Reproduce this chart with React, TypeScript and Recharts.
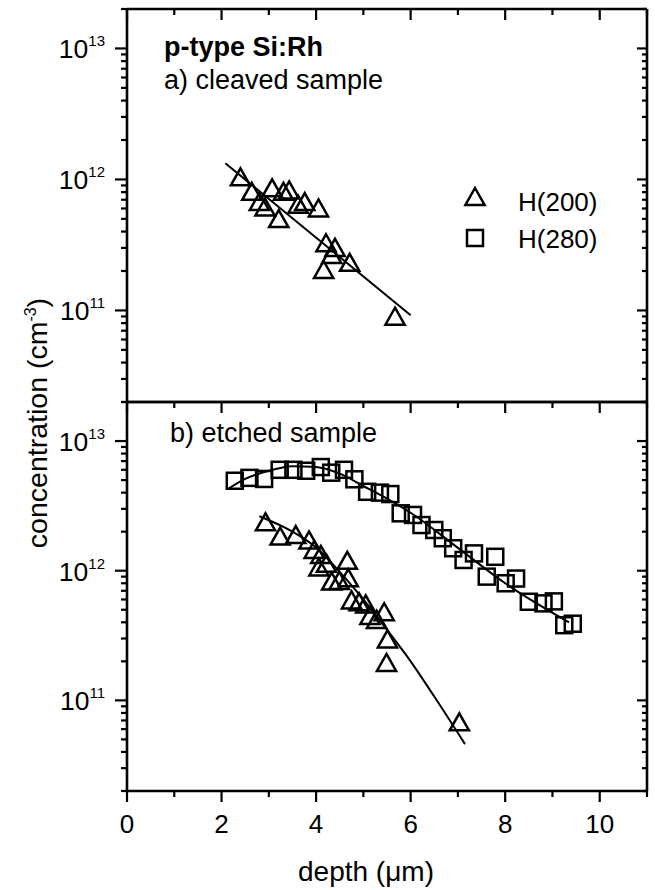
import React from 'react';
import { ComposedChart, Scatter, Line, XAxis, YAxis, Legend, Customized } from 'recharts';

// ---------------- data ----------------
const depthTicks = [0, 1, 2, 3, 4, 5, 6, 7, 8, 9, 10, 11];
const depthTickLabels = [0, 2, 4, 6, 8, 10];
const concTicks = [
  2e10, 3e10, 4e10, 5e10, 6e10, 7e10, 8e10, 9e10,
  1e11, 2e11, 3e11, 4e11, 5e11, 6e11, 7e11, 8e11, 9e11,
  1e12, 2e12, 3e12, 4e12, 5e12, 6e12, 7e12, 8e12, 9e12,
  1e13, 2e13,
];
const concDecades = [1e11, 1e12, 1e13];
const seriesNames = ['H(200)', 'H(280)'];

// a) cleaved sample, H(200)
const cleavedH200Depth = [2.40, 2.64, 2.80, 2.92, 3.07, 3.21, 3.31, 3.43, 3.62, 3.76, 4.05, 4.16, 4.21, 4.33, 4.40, 4.71, 5.67];
const cleavedH200Conc = [1.02e12, 7.9e11, 6.6e11, 6.0e11, 8.4e11, 4.9e11, 7.9e11, 8.1e11, 6.3e11, 6.6e11, 5.9e11, 2.0e11, 3.2e11, 2.6e11, 2.95e11, 2.27e11, 8.8e10];
const cleavedFitDepth = [2.08, 6.0];
const cleavedFitConc = [1.33e12, 9.2e10];

// b) etched sample, H(280)
const etchedH280Depth = [2.28, 2.59, 2.90, 3.23, 3.52, 3.79, 4.10, 4.32, 4.59, 4.81, 5.08, 5.35, 5.57, 5.79, 6.05, 6.23, 6.50, 6.68, 6.90, 7.12, 7.34, 7.61, 7.79, 8.01, 8.23, 8.50, 8.81, 9.03, 9.25, 9.43];
const etchedH280Conc = [4.94e12, 5.2e12, 5.1e12, 6.0e12, 6.0e12, 5.9e12, 6.3e12, 5.7e12, 6.0e12, 5.07e12, 4.06e12, 4.0e12, 3.9e12, 2.77e12, 2.69e12, 2.25e12, 2.06e12, 1.78e12, 1.49e12, 1.21e12, 1.36e12, 9.0e11, 1.28e12, 8.0e11, 8.7e11, 5.76e11, 5.6e11, 5.8e11, 3.8e11, 3.9e11];
const etchedH280FitDepth = [2.15, 2.5, 3.0, 3.5, 4.0, 4.5, 5.0, 5.5, 6.0, 7.0, 8.0, 9.35];
const etchedH280FitConc = [4.3e12, 5.1e12, 5.9e12, 6.4e12, 6.3e12, 5.6e12, 4.5e12, 3.6e12, 2.8e12, 1.5e12, 8.0e11, 4.0e11];

// b) etched sample, H(200)
const etchedH200Depth = [2.93, 3.24, 3.57, 3.85, 3.96, 4.10, 4.06, 4.22, 4.33, 4.66, 4.68, 4.49, 4.75, 4.91, 5.05, 5.14, 5.28, 5.44, 5.51, 5.49, 7.03];
const etchedH200Conc = [2.32e12, 1.80e12, 1.85e12, 1.68e12, 1.42e12, 1.30e12, 1.04e12, 1.11e12, 8.1e11, 1.17e12, 8.6e11, 8.2e11, 5.8e11, 5.6e11, 5.4e11, 4.4e11, 4.1e11, 4.7e11, 2.9e11, 1.91e11, 6.65e10];
const etchedH200FitDepth = [2.8, 3.5, 4.0, 4.5, 5.0, 5.5, 6.0, 6.5, 7.15];
const etchedH200FitConc = [2.63e12, 2.0e12, 1.51e12, 9.8e11, 6.0e11, 3.5e11, 2.0e11, 1.07e11, 4.6e10];

const zip = (xs: number[], ys: number[]) => xs.map((x, i) => ({ x, y: ys[i] }));

const cleavedH200 = zip(cleavedH200Depth, cleavedH200Conc);
const cleavedFit = zip(cleavedFitDepth, cleavedFitConc);
const etchedH280 = zip(etchedH280Depth, etchedH280Conc);
const etchedH280Fit = zip(etchedH280FitDepth, etchedH280FitConc);
const etchedH200 = zip(etchedH200Depth, etchedH200Conc);
const etchedH200Fit = zip(etchedH200FitDepth, etchedH200FitConc);

// ---------------- layout / style ----------------
const W = 655;
const H = 890;
const PLOT_L = 127;
const PLOT_R = 647;
const A_TOP = 9;
const A_BOTTOM = 402;
const B_TOP = 402;
const B_BOTTOM = 791;
const FONT = '"Liberation Sans", Arial, Helvetica, sans-serif';
const AXIS = { stroke: '#000', strokeWidth: 2.6 };
const TICK_W = 2.2;

const isDecade = (v: number) => concDecades.some((d) => Math.abs(d - v) / d < 1e-9);
const isEvenDepth = (v: number) => Math.round(v) % 2 === 0;

function LeftTick(props: any) {
  const { x, y, payload } = props;
  const v = payload.value;
  const major = isDecade(v);
  const exp = Math.round(Math.log10(v));
  return (
    <g>
      <line x1={x} x2={x - (major ? 12 : 6)} y1={y} y2={y} stroke="#000" strokeWidth={TICK_W} />
      {major && (
        <text x={x - 22} y={y + 10} textAnchor="end" fontFamily={FONT} fontSize={26.5} fill="#000">
          10
          <tspan dy={-12} fontSize={15}>{exp}</tspan>
        </text>
      )}
    </g>
  );
}

function RightTick(props: any) {
  const { x, y, payload } = props;
  const major = isDecade(payload.value);
  return <line x1={x} x2={x - (major ? 10 : 5)} y1={y} y2={y} stroke="#000" strokeWidth={TICK_W} />;
}

function TopTick(props: any) {
  const { x, y, payload } = props;
  const major = isEvenDepth(payload.value);
  return <line x1={x} x2={x} y1={y} y2={y + (major ? 11 : 6)} stroke="#000" strokeWidth={TICK_W} />;
}

function BottomTick(props: any) {
  const { x, y, payload } = props;
  const v = payload.value;
  const major = isEvenDepth(v);
  return (
    <g>
      <line x1={x} x2={x} y1={y} y2={y + (major ? 11 : 6)} stroke="#000" strokeWidth={TICK_W} />
      {depthTickLabels.includes(v) && (
        <text x={x} y={y + 42} textAnchor="middle" fontFamily={FONT} fontSize={26} fill="#000">
          {v}
        </text>
      )}
    </g>
  );
}

function Triangle(props: any) {
  const { cx, cy } = props;
  if (cx == null || cy == null) return null;
  const pts = `${cx},${cy - 10} ${cx + 9.6},${cy + 7} ${cx - 9.6},${cy + 7}`;
  return <polygon points={pts} fill="none" stroke="#000" strokeWidth={2.5} strokeLinejoin="miter" />;
}

function Square(props: any) {
  const { cx, cy } = props;
  if (cx == null || cy == null) return null;
  return <rect x={cx - 8} y={cy - 8} width={16} height={16} fill="none" stroke="#000" strokeWidth={2.5} />;
}

function LegendContent() {
  return (
    <svg width={175} height={80} style={{ display: 'block', overflow: 'visible' }}>
      <Triangle cx={15} cy={16} />
      <text x={58} y={29} fontFamily={FONT} fontSize={26} fill="#000">{seriesNames[0]}</text>
      <Square cx={15} cy={56} />
      <text x={58} y={66} fontFamily={FONT} fontSize={26} fill="#000">{seriesNames[1]}</text>
    </svg>
  );
}

function AnnotationsA() {
  return (
    <g fontFamily={FONT} fill="#000">
      <text x={164} y={56} fontSize={27} fontWeight="bold">p-type Si:Rh</text>
      <text x={164} y={89} fontSize={27}>a) cleaved sample</text>
    </g>
  );
}

function AnnotationsB() {
  return (
    <g fontFamily={FONT} fill="#000">
      <text x={170} y={442} fontSize={27}>b) etched sample</text>
      <text x={366} y={881} fontSize={28} textAnchor="middle">depth (μm)</text>
      <text x={47} y={423} fontSize={28.5} textAnchor="middle" transform="rotate(-90 47 423)">
        concentration (cm
        <tspan dy={-11} fontSize={16}>-3</tspan>
        <tspan dy={11}>)</tspan>
      </text>
    </g>
  );
}

// Axes are 1px thick so Recharts renders them; margins compensate.
function axes(topTicks: boolean, bottomTicks: boolean) {
  const common = {
    dataKey: 'x',
    type: 'number' as const,
    domain: [0, 11],
    allowDataOverflow: true,
    ticks: depthTicks,
    interval: 0 as const,
    height: 1,
    tickSize: 0,
    tickMargin: 0,
    tickLine: false,
    axisLine: AXIS,
  };
  const ycommon = {
    dataKey: 'y',
    type: 'number' as const,
    scale: 'log' as const,
    domain: [2e10, 2e13],
    allowDataOverflow: true,
    ticks: concTicks,
    interval: 0 as const,
    width: 1,
    tickSize: 0,
    tickMargin: 0,
    tickLine: false,
    axisLine: AXIS,
  };
  return [
    <XAxis key="xb" xAxisId="b" orientation="bottom" {...common} tick={bottomTicks ? (p: any) => <BottomTick {...p} /> : false} />,
    <XAxis key="xt" xAxisId="t" orientation="top" {...common} tick={topTicks ? (p: any) => <TopTick {...p} /> : false} />,
    <YAxis key="yl" yAxisId="l" orientation="left" {...ycommon} tick={(p: any) => <LeftTick {...p} />} />,
    <YAxis key="yr" yAxisId="r" orientation="right" {...ycommon} tick={(p: any) => <RightTick {...p} />} />,
  ];
}

export default function App() {
  return (
    <div style={{ position: 'absolute', left: 0, top: 0, width: W, height: H, background: '#fff' }}>
      <div style={{ position: 'absolute', left: 0, top: 0 }}>
        <ComposedChart
          width={W}
          height={H}
          margin={{ top: A_TOP - 1, bottom: H - A_BOTTOM - 1, left: PLOT_L - 1, right: W - PLOT_R - 1 }}
        >
          {axes(true, false)}
          <Line
            xAxisId="b"
            yAxisId="l"
            data={cleavedFit}
            dataKey="y"
            type="linear"
            stroke="#000"
            strokeWidth={2}
            dot={false}
            isAnimationActive={false}
            legendType="none"
          />
          <Scatter
            xAxisId="b"
            yAxisId="l"
            name={seriesNames[0]}
            data={cleavedH200}
            dataKey="y"
            shape={(p: any) => <Triangle {...p} />}
            isAnimationActive={false}
          />
          <Legend
            layout="vertical"
            align="center"
            verticalAlign="middle"
            wrapperStyle={{ position: 'absolute', left: 460, top: 182, width: 175, height: 80 }}
            content={() => <LegendContent />}
          />
          <Customized component={AnnotationsA} />
        </ComposedChart>
      </div>
      <div style={{ position: 'absolute', left: 0, top: 0 }}>
        <ComposedChart
          width={W}
          height={H}
          margin={{ top: B_TOP - 1, bottom: H - B_BOTTOM - 1, left: PLOT_L - 1, right: W - PLOT_R - 1 }}
        >
          {axes(true, true)}
          <Line
            xAxisId="b"
            yAxisId="l"
            data={etchedH280Fit}
            dataKey="y"
            type="monotone"
            stroke="#000"
            strokeWidth={2}
            dot={false}
            isAnimationActive={false}
          />
          <Line
            xAxisId="b"
            yAxisId="l"
            data={etchedH200Fit}
            dataKey="y"
            type="monotone"
            stroke="#000"
            strokeWidth={2}
            dot={false}
            isAnimationActive={false}
          />
          <Scatter
            xAxisId="b"
            yAxisId="l"
            name={seriesNames[1]}
            data={etchedH280}
            dataKey="y"
            shape={(p: any) => <Square {...p} />}
            isAnimationActive={false}
          />
          <Scatter
            xAxisId="b"
            yAxisId="l"
            name={seriesNames[0]}
            data={etchedH200}
            dataKey="y"
            shape={(p: any) => <Triangle {...p} />}
            isAnimationActive={false}
          />
          <Customized component={AnnotationsB} />
        </ComposedChart>
      </div>
    </div>
  );
}
